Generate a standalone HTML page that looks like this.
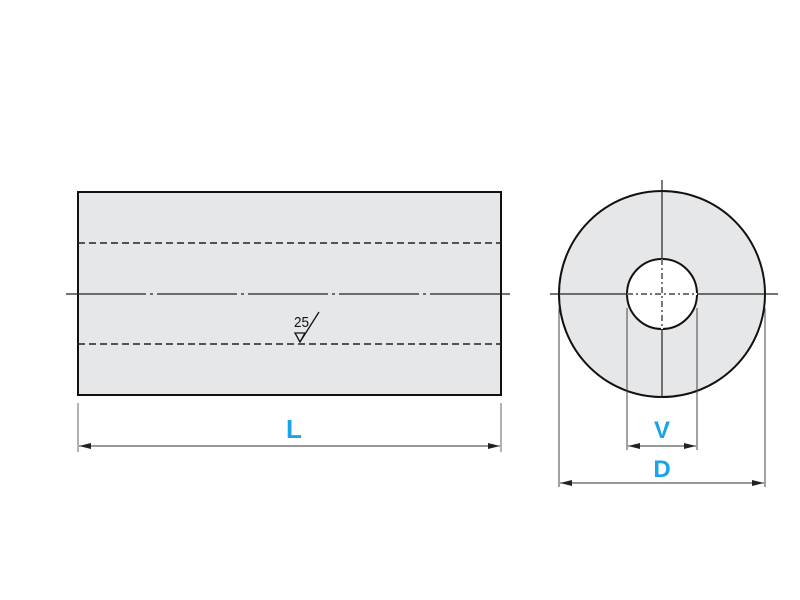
<!DOCTYPE html>
<html><head><style>body{margin:0;background:#fff}svg{display:block}</style></head><body>
<svg width="800" height="600" viewBox="0 0 800 600" xmlns="http://www.w3.org/2000/svg">
<defs><marker id="a" markerWidth="12" markerHeight="6" refX="12" refY="3" orient="auto-start-reverse" markerUnits="userSpaceOnUse"><path d="M0,0 L12,3 L0,6 Z" fill="#222"/></marker></defs>
<rect x="78" y="192" width="423" height="203" fill="#e6e7e9" stroke="#111" stroke-width="2"/>
<line x1="78" y1="243" x2="501" y2="243" stroke="#222" stroke-width="1.4" stroke-dasharray="7,4"/>
<line x1="78" y1="344" x2="501" y2="344" stroke="#222" stroke-width="1.4" stroke-dasharray="7,4"/>
<line x1="66" y1="294" x2="510" y2="294" stroke="#222" stroke-width="1.2" stroke-dasharray="80,4,3,4"/>
<text x="294" y="327" font-family="Liberation Sans Narrow, Liberation Sans, sans-serif" font-size="15" fill="#111" transform="scale(0.9,1)" transform-origin="294 327">25</text>
<path d="M295,333 L305,333 L300,342 Z M300,342 L319,312" fill="none" stroke="#111" stroke-width="1.3"/>
<line x1="78" y1="403" x2="78" y2="452" stroke="#666" stroke-width="1"/>
<line x1="501" y1="403" x2="501" y2="452" stroke="#666" stroke-width="1"/>
<line x1="79" y1="446" x2="500" y2="446" stroke="#333" stroke-width="1" marker-start="url(#a)" marker-end="url(#a)"/>
<text x="294" y="438" text-anchor="middle" font-family="Liberation Sans, sans-serif" font-weight="bold" font-size="26" fill="#1aa3e8">L</text>
<circle cx="662" cy="294" r="103" fill="#e6e7e9" stroke="#111" stroke-width="2"/>
<circle cx="662" cy="294" r="35" fill="#fff" stroke="#111" stroke-width="2"/>
<line x1="550" y1="294" x2="778" y2="294" stroke="#222" stroke-width="1.2"/>
<line x1="662" y1="180" x2="662" y2="398" stroke="#222" stroke-width="1.2"/>
<line x1="627" y1="294" x2="697" y2="294" stroke="#fff" stroke-width="2"/>
<line x1="662" y1="259" x2="662" y2="329" stroke="#fff" stroke-width="2"/>
<line x1="627" y1="294" x2="697" y2="294" stroke="#222" stroke-width="1.2" stroke-dasharray="6,3,2,3"/>
<line x1="662" y1="259" x2="662" y2="329" stroke="#222" stroke-width="1.2" stroke-dasharray="6,3,2,3"/>
<line x1="627" y1="308" x2="627" y2="450" stroke="#444" stroke-width="1"/>
<line x1="697" y1="308" x2="697" y2="450" stroke="#444" stroke-width="1"/>
<line x1="628" y1="446" x2="696" y2="446" stroke="#333" stroke-width="1" marker-start="url(#a)" marker-end="url(#a)"/>
<line x1="559" y1="308" x2="559" y2="487" stroke="#444" stroke-width="1"/>
<line x1="765" y1="308" x2="765" y2="487" stroke="#444" stroke-width="1"/>
<line x1="560" y1="483" x2="764" y2="483" stroke="#333" stroke-width="1" marker-start="url(#a)" marker-end="url(#a)"/>
<text x="662" y="438" text-anchor="middle" font-family="Liberation Sans, sans-serif" font-weight="bold" font-size="24" fill="#1aa3e8">V</text>
<text x="662" y="477" text-anchor="middle" font-family="Liberation Sans, sans-serif" font-weight="bold" font-size="24" fill="#1aa3e8">D</text>
</svg>
</body></html>
